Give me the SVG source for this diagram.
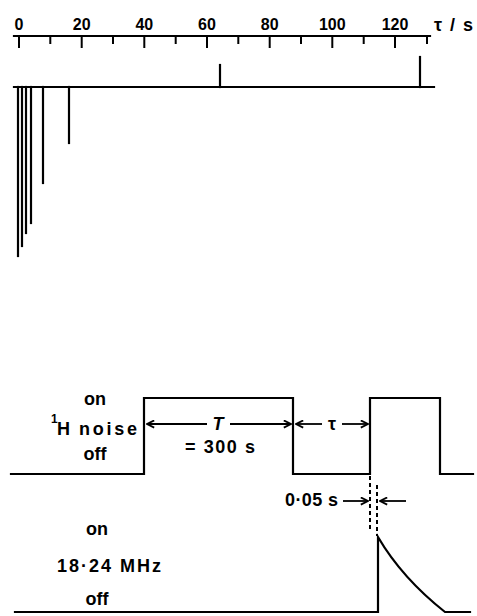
<svg xmlns="http://www.w3.org/2000/svg" width="477" height="616" viewBox="0 0 477 616">
<style>
.ln{stroke:#000;stroke-width:2.2;fill:none;stroke-linecap:square}
.tk{stroke:#000;stroke-width:2;fill:none}
.ar{stroke:#000;stroke-width:1.8;fill:none}
.ds{stroke:#000;stroke-width:2;fill:none;stroke-dasharray:4 3}
.t{font-family:"Liberation Sans",Arial,sans-serif;font-size:16px;font-weight:bold;fill:#000}
.b{font-size:18px}
.m{text-anchor:middle}
</style>
<defs>
<marker id="ah" viewBox="0 0 10 10" refX="9" refY="5" markerWidth="9" markerHeight="9" markerUnits="userSpaceOnUse" orient="auto-start-reverse">
<path d="M1,1 L9,5 L1,9" fill="none" stroke="#000" stroke-width="2"/>
</marker>
</defs>
<rect width="477" height="616" fill="#fff"/>

<g id="axis">
<line class="ln" x1="14" y1="36" x2="430" y2="36"/>
<g class="tk">
<line x1="19" y1="36" x2="19" y2="48"/>
<line x1="50.3" y1="36" x2="50.3" y2="44"/>
<line x1="81.7" y1="36" x2="81.7" y2="48"/>
<line x1="113" y1="36" x2="113" y2="44"/>
<line x1="144.3" y1="36" x2="144.3" y2="48"/>
<line x1="175.7" y1="36" x2="175.7" y2="44"/>
<line x1="207" y1="36" x2="207" y2="48"/>
<line x1="238.3" y1="36" x2="238.3" y2="44"/>
<line x1="269.7" y1="36" x2="269.7" y2="48"/>
<line x1="301" y1="36" x2="301" y2="44"/>
<line x1="332.3" y1="36" x2="332.3" y2="48"/>
<line x1="363.7" y1="36" x2="363.7" y2="44"/>
<line x1="395" y1="36" x2="395" y2="48"/>
<line x1="427" y1="36" x2="427" y2="44"/>
</g>
<text class="t m" x="19" y="30">0</text>
<text class="t m" x="81.7" y="30">20</text>
<text class="t m" x="144.3" y="30">40</text>
<text class="t m" x="207" y="30">60</text>
<text class="t m" x="269.7" y="30">80</text>
<text class="t m" x="332.3" y="30">100</text>
<text class="t m" x="395" y="30">120</text>
<text class="t b" x="434" y="31" textLength="39" lengthAdjust="spacing">τ / s</text>
</g>

<g id="spectrum">
<line class="ln" x1="14" y1="87" x2="434" y2="87"/>
<line class="ln" x1="220" y1="87" x2="220" y2="65"/>
<line class="ln" x1="420" y1="87" x2="420" y2="57"/>
<line class="ln" x1="18" y1="87" x2="18" y2="256"/>
<line class="ln" x1="22" y1="87" x2="22" y2="246"/>
<line class="ln" x1="26" y1="87" x2="26" y2="233"/>
<line class="ln" x1="31" y1="87" x2="31" y2="223"/>
<line class="ln" x1="43" y1="87" x2="43" y2="183"/>
<line class="ln" x1="69" y1="87" x2="69" y2="143"/>
</g>

<g id="h-noise">
<polyline class="ln" points="11,474 144,474 144,398 293,398 293,474 370,474 370,398 440,398 440,474 473,474"/>
<text class="t b m" x="95" y="405">on</text>
<text class="t" x="51" y="423" style="font-size:12px">1</text>
<text class="t b" x="57" y="435">H</text>
<text class="t b" x="79" y="435" textLength="58" lengthAdjust="spacing">noise</text>
<text class="t b m" x="95" y="460">off</text>
</g>

<g id="rf">
<path class="ln" d="M15,612 L378,612 L378,537 Q402,578 445,612 L470,612"/>
<text class="t b m" x="97" y="535">on</text>
<text class="t b" x="57" y="572" textLength="104" lengthAdjust="spacing">18·24  MHz</text>
<text class="t b m" x="97" y="605">off</text>
</g>

<g id="connectors">
<line class="ar" x1="207" y1="424" x2="147" y2="424" marker-end="url(#ah)"/>
<line class="ar" x1="230" y1="424" x2="291" y2="424" marker-end="url(#ah)"/>
<line class="ar" x1="322" y1="424" x2="296" y2="424" marker-end="url(#ah)"/>
<line class="ar" x1="342" y1="424" x2="368" y2="424" marker-end="url(#ah)"/>
<line class="ar" x1="343" y1="501" x2="368" y2="501" marker-end="url(#ah)"/>
<line class="ar" x1="406" y1="501" x2="380" y2="501" marker-end="url(#ah)"/>
<line class="ds" x1="370" y1="476" x2="370" y2="530"/>
<line class="ds" x1="377" y1="485" x2="377" y2="536"/>
</g>

<g id="labels">
<text class="t b m" x="218" y="430" font-style="italic">T</text>
<text class="t b" x="185" y="453" textLength="70" lengthAdjust="spacing">= 300 s</text>
<text class="t b m" x="332" y="430">τ</text>
<text class="t b" x="285" y="506" textLength="53" lengthAdjust="spacing">0·05 s</text>
</g>
</svg>
